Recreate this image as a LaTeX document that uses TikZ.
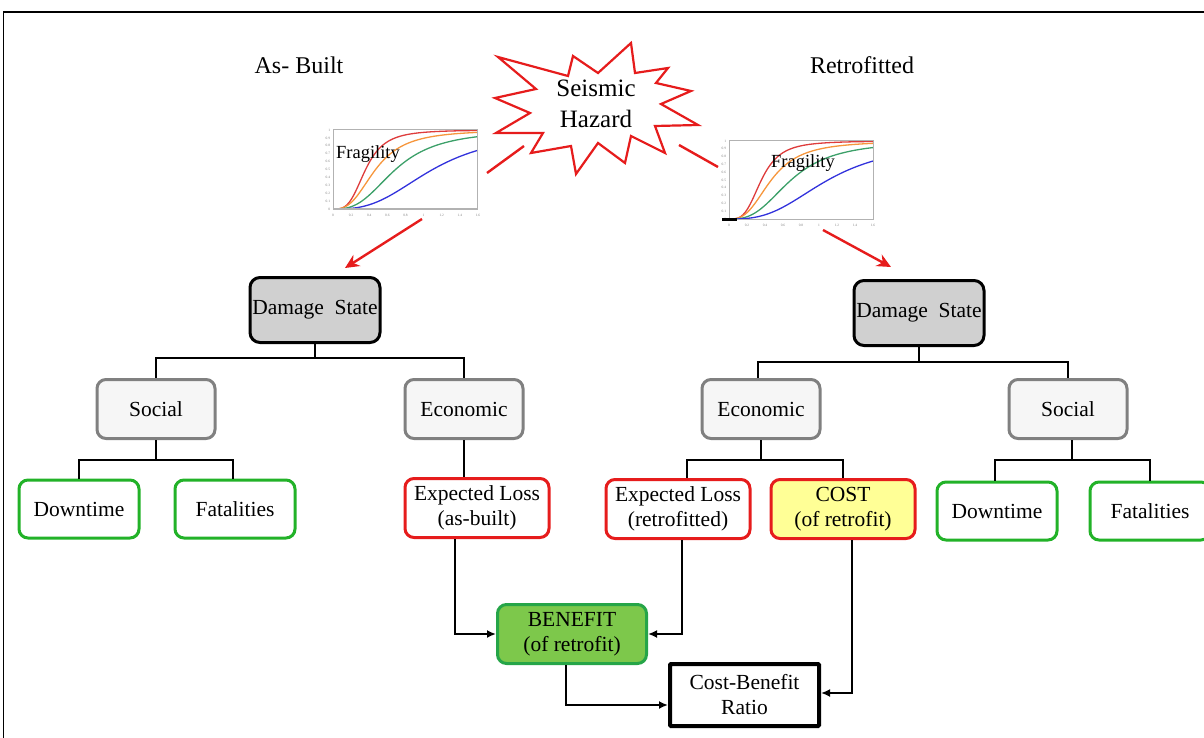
\documentclass[tikz,border=0pt]{standalone}
\usepackage{fontspec}
\setmainfont{Liberation Serif}
\usetikzlibrary{arrows.meta}
\definecolor{hazred}{RGB}{230,28,28}
\definecolor{okgreen}{RGB}{34,178,40}
\definecolor{benfill}{RGB}{125,200,75}
\definecolor{benline}{RGB}{38,165,72}
\definecolor{costfill}{RGB}{255,255,150}
\definecolor{catline}{RGB}{128,128,128}
\definecolor{catfill}{RGB}{246,246,246}
\definecolor{dsfill}{RGB}{208,208,208}
\definecolor{fragred}{RGB}{222,60,60}
\definecolor{fragorange}{RGB}{246,150,60}
\definecolor{fraggreen}{RGB}{60,160,105}
\definecolor{fragblue}{RGB}{50,50,220}
\begin{document}
\begin{tikzpicture}[x=1pt, y=-1pt,
    boxtext/.style={font=\fontsize{21.5}{25}\selectfont, align=center, inner sep=0pt},
    dmgbox/.style={boxtext, draw=black, line width=3pt, fill=dsfill, rounded corners=10pt,
      minimum width=130pt, minimum height=65pt},
    catbox/.style={boxtext, draw=catline, line width=3pt, fill=catfill, rounded corners=9pt,
      minimum width=118pt, minimum height=59pt},
    socbox/.style={boxtext, draw=okgreen, line width=3pt, fill=white, rounded corners=9pt,
      minimum width=120pt, minimum height=58pt},
    lossbox/.style={boxtext, draw=hazred, line width=3pt, fill=white, rounded corners=9pt,
      minimum width=144pt, minimum height=59pt},
    tree/.style={line width=2.4pt, black},
    flow/.style={line width=2pt, black, -{Latex[length=9pt,width=8pt]}},
    hazline/.style={line width=2.4pt, hazred},
    title/.style={font=\fontsize{24}{28}\selectfont}
  ]
  \useasboundingbox (0,0) rectangle (1204,738);
  % frame
  \draw[line width=2pt] (3,12) -- (1204,12);
  \draw[line width=1.5pt] (3.5,12) -- (3.5,738);

  \node[title] (asbuilt) at (299,65) {As- Built};
  \node[title] (retro) at (862,65) {Retrofitted};

  % seismic hazard burst
  \draw[hazred, line width=2.2pt, fill=white]
    (498,57) -- (568,76) -- (573,56) -- (598,73) -- (631,43) -- (635,73)
    -- (668,68) -- (656,83) -- (691,91) -- (661,104) -- (698,125) -- (655,126)
    -- (665,153) -- (631,136) -- (625,163) -- (598,143) -- (576,174) -- (571,146)
    -- (531,153) -- (543,133) -- (496,133) -- (530,113) -- (495,98) -- (536,89) -- cycle;
  \node[font=\fontsize{25}{31}\selectfont, align=center] (hazard) at (596,104) {Seismic\\Hazard};

  % fragility curves
  \foreach \px/\py/\pw/\ph in {333/209/90.6/79, 729/219/90/78}{
    \begin{scope}[shift={(\px,\py)}, x=\pw pt, y=\ph pt]
      \foreach \c/\th/\be in {fragred/0.36/0.5, fragorange/0.47/0.6, fraggreen/0.69/0.6, fragblue/1.1/0.6}{
        \draw[\c, line width=1.3pt] plot[domain=0.05:1.6, samples=60, smooth]
          (\x, {1/(1+exp(-1.702*ln(\x/\th)/\be))});
      }
      \draw[gray!60, line width=1pt] (0,0) rectangle (1.6,1);
      \foreach \t in {0,0.2,0.4,0.6,0.8,1,1.2,1.4,1.6}{
        \node[font=\fontsize{3.5}{4}\selectfont, text=gray, inner sep=0pt] at (\t,-0.08) {\t};
      }
      \foreach \t in {0,0.1,0.2,0.3,0.4,0.5,0.6,0.7,0.8,0.9,1}{
        \node[font=\fontsize{3.5}{4}\selectfont, text=gray, inner sep=0pt, anchor=east] at (-0.03,\t) {\t};
      }
    \end{scope}
  }
  \draw[line width=3pt] (722,219) -- (737,219);
  \node[font=\fontsize{18.5}{20}\selectfont] (fragLtext) at (368,154) {Fragility};
  \node[font=\fontsize{18.5}{20}\selectfont] (fragRtext) at (803,163) {Fragility};

  % hazard links
  \draw[hazline] (487,173) -- (524,146);
  \draw[hazline] (679,145) -- (718,167);
  \draw[hazline, -{Stealth[length=14pt,width=13pt]}] (422,219) -- (345,268);
  \draw[hazline, -{Stealth[length=14pt,width=13pt]}] (823,230) -- (891,267);

  % damage states
  \node[dmgbox] (dsL) at (315,310) {Damage\hspace{0.5em}State};
  \node[dmgbox] (dsR) at (919,313) {Damage\hspace{0.5em}State};

  \node[catbox] (socL) at (156,409) {Social};
  \node[catbox] (econL) at (464,409) {Economic};
  \node[catbox] (econR) at (761,409) {Economic};
  \node[catbox] (socR) at (1068,409) {Social};

  \node[socbox] (downL) at (79,509) {Downtime};
  \node[socbox] (fatL) at (235,509) {Fatalities};
  \node[socbox] (downR) at (997,511) {Downtime};
  \node[socbox] (fatR) at (1150,511) {Fatalities};

  \node[lossbox] (elA) at (477,508) {Expected Loss\\(as-built)};
  \node[lossbox] (elR) at (678,509) {Expected Loss\\(retrofitted)};
  \node[lossbox, fill=costfill] (cost) at (843,509) {COST\\(of retrofit)};

  \node[boxtext, draw=benline, fill=benfill, line width=3pt, rounded corners=9pt,
    minimum width=149pt, minimum height=59pt] (benefit) at (572,634) {BENEFIT\\(of retrofit)};
  \node[boxtext, draw=black, fill=white, line width=4pt, rounded corners=1pt,
    minimum width=149pt, minimum height=62pt] (cbr) at (744.5,695) {Cost-Benefit\\Ratio};

  % tree
  \draw[tree] (dsL.south) -- ++(0,14) -| (socL.north);
  \draw[tree] (dsL.south) -- ++(0,14) -| (econL.north);
  \draw[tree] (dsR.south) -- ++(0,15) -| ([xshift=-3pt]econR.north);
  \draw[tree] (dsR.south) -- ++(0,15) -| (socR.north);
  \draw[tree] (socL.south) -- ++(0,20) -| (downL.north);
  \draw[tree] (socL.south) -- ++(0,20) -| ([xshift=-2pt]fatL.north);
  \draw[tree] (econL.south) -- (econL.south |- elA.north);
  \draw[tree] (econR.south) -- ++(0,20) -| ([xshift=9pt]elR.north);
  \draw[tree] (econR.south) -- ++(0,20) -| (cost.north);
  \draw[tree] ([xshift=4pt]socR.south) -- ++(0,20) -| ([xshift=-2pt]downR.north);
  \draw[tree] ([xshift=4pt]socR.south) -- ++(0,20) -| (fatR.north);

  % benefit and ratio
  \draw[flow] ([xshift=-22pt]elA.south) |- (benefit.west);
  \draw[flow] ([xshift=4pt]elR.south) |- (benefit.east);
  \draw[flow] ([xshift=9pt]cost.south) |- ([yshift=2pt]cbr.east);
  \draw[flow] ([xshift=-6pt]benefit.south) |- ([yshift=-10pt]cbr.west);
\end{tikzpicture}
\end{document}
